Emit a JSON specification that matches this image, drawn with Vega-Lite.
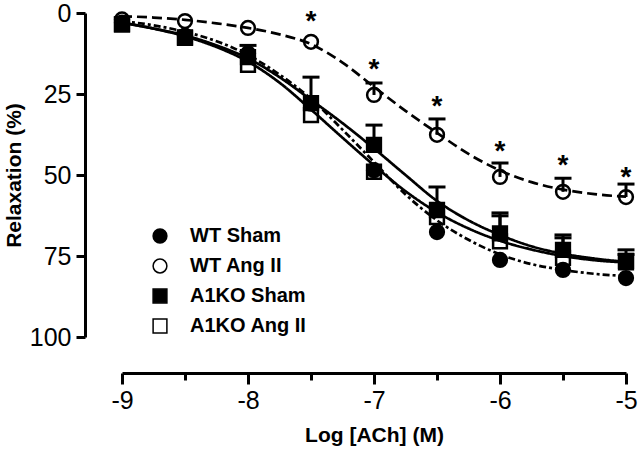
{
  "$schema": "https://vega.github.io/schema/vega-lite/v6.json",
  "width": 504,
  "height": 324,
  "autosize": {"type": "none"},
  "padding": {"left": 122, "top": 13, "right": 14, "bottom": 118},
  "background": "white",
  "config": {
    "view": {"stroke": null},
    "font": "Liberation Sans",
    "axis": {
      "domainColor": "black",
      "domainWidth": 3,
      "tickColor": "black",
      "tickWidth": 3,
      "labelColor": "black",
      "labelFont": "Liberation Sans",
      "labelFontSize": 25,
      "titleFont": "Liberation Sans",
      "titleFontSize": 21,
      "titleFontWeight": "bold",
      "titleColor": "black",
      "grid": false
    }
  },
  "datasets": {
    "curves": [
      {"x": -9, "c": "WT Ang II fit", "y": 1.0}, {"x": -8.75, "c": "WT Ang II fit", "y": 1.4}, {"x": -8.5, "c": "WT Ang II fit", "y": 2.1}, {"x": -8.25, "c": "WT Ang II fit", "y": 3.2}, {"x": -8, "c": "WT Ang II fit", "y": 4.6}, {"x": -7.75, "c": "WT Ang II fit", "y": 6.6}, {"x": -7.5, "c": "WT Ang II fit", "y": 9.6}, {"x": -7.25, "c": "WT Ang II fit", "y": 15.3}, {"x": -7, "c": "WT Ang II fit", "y": 22.8}, {"x": -6.75, "c": "WT Ang II fit", "y": 30.2}, {"x": -6.5, "c": "WT Ang II fit", "y": 37.0}, {"x": -6.25, "c": "WT Ang II fit", "y": 43.5}, {"x": -6, "c": "WT Ang II fit", "y": 48.6}, {"x": -5.75, "c": "WT Ang II fit", "y": 52.2}, {"x": -5.5, "c": "WT Ang II fit", "y": 54.5}, {"x": -5.25, "c": "WT Ang II fit", "y": 55.9}, {"x": -5, "c": "WT Ang II fit", "y": 56.7},
      {"x": -9, "c": "WT Sham fit", "y": 2.5}, {"x": -8.75, "c": "WT Sham fit", "y": 3.8}, {"x": -8.5, "c": "WT Sham fit", "y": 5.8}, {"x": -8.25, "c": "WT Sham fit", "y": 8.7}, {"x": -8, "c": "WT Sham fit", "y": 13.0}, {"x": -7.75, "c": "WT Sham fit", "y": 19.0}, {"x": -7.5, "c": "WT Sham fit", "y": 26.5}, {"x": -7.25, "c": "WT Sham fit", "y": 36.0}, {"x": -7, "c": "WT Sham fit", "y": 46.0}, {"x": -6.75, "c": "WT Sham fit", "y": 56.0}, {"x": -6.5, "c": "WT Sham fit", "y": 64.0}, {"x": -6.25, "c": "WT Sham fit", "y": 70.0}, {"x": -6, "c": "WT Sham fit", "y": 74.5}, {"x": -5.75, "c": "WT Sham fit", "y": 77.5}, {"x": -5.5, "c": "WT Sham fit", "y": 79.3}, {"x": -5.25, "c": "WT Sham fit", "y": 80.5}, {"x": -5, "c": "WT Sham fit", "y": 81.2},
      {"x": -9, "c": "A1KO Sham fit", "y": 3.0}, {"x": -8.75, "c": "A1KO Sham fit", "y": 4.8}, {"x": -8.5, "c": "A1KO Sham fit", "y": 6.9}, {"x": -8.25, "c": "A1KO Sham fit", "y": 10.0}, {"x": -8, "c": "A1KO Sham fit", "y": 14.0}, {"x": -7.75, "c": "A1KO Sham fit", "y": 19.8}, {"x": -7.5, "c": "A1KO Sham fit", "y": 26.8}, {"x": -7.25, "c": "A1KO Sham fit", "y": 34.0}, {"x": -7, "c": "A1KO Sham fit", "y": 41.8}, {"x": -6.75, "c": "A1KO Sham fit", "y": 50.0}, {"x": -6.5, "c": "A1KO Sham fit", "y": 58.0}, {"x": -6.25, "c": "A1KO Sham fit", "y": 64.0}, {"x": -6, "c": "A1KO Sham fit", "y": 68.5}, {"x": -5.75, "c": "A1KO Sham fit", "y": 72.0}, {"x": -5.5, "c": "A1KO Sham fit", "y": 74.3}, {"x": -5.25, "c": "A1KO Sham fit", "y": 75.8}, {"x": -5, "c": "A1KO Sham fit", "y": 76.8},
      {"x": -9, "c": "A1KO Ang II fit", "y": 3.0}, {"x": -8.75, "c": "A1KO Ang II fit", "y": 4.8}, {"x": -8.5, "c": "A1KO Ang II fit", "y": 7.2}, {"x": -8.25, "c": "A1KO Ang II fit", "y": 10.5}, {"x": -8, "c": "A1KO Ang II fit", "y": 15.0}, {"x": -7.75, "c": "A1KO Ang II fit", "y": 21.5}, {"x": -7.5, "c": "A1KO Ang II fit", "y": 29.8}, {"x": -7.25, "c": "A1KO Ang II fit", "y": 38.5}, {"x": -7, "c": "A1KO Ang II fit", "y": 47.0}, {"x": -6.75, "c": "A1KO Ang II fit", "y": 55.0}, {"x": -6.5, "c": "A1KO Ang II fit", "y": 61.5}, {"x": -6.25, "c": "A1KO Ang II fit", "y": 66.5}, {"x": -6, "c": "A1KO Ang II fit", "y": 70.3}, {"x": -5.75, "c": "A1KO Ang II fit", "y": 73.0}, {"x": -5.5, "c": "A1KO Ang II fit", "y": 75.0}, {"x": -5.25, "c": "A1KO Ang II fit", "y": 76.3}, {"x": -5, "c": "A1KO Ang II fit", "y": 77.0}
    ],
    "points": [
      {"x": -9, "g": "WT Sham", "m": 3.0}, {"x": -8.5, "g": "WT Sham", "m": 7.0}, {"x": -8, "g": "WT Sham", "m": 12.5}, {"x": -7.5, "g": "WT Sham", "m": 28.0}, {"x": -7, "g": "WT Sham", "m": 48.5}, {"x": -6.5, "g": "WT Sham", "m": 67.6}, {"x": -6, "g": "WT Sham", "m": 76.2}, {"x": -5.5, "g": "WT Sham", "m": 79.3}, {"x": -5, "g": "WT Sham", "m": 81.8},
      {"x": -9, "g": "WT Ang II", "m": 2.0}, {"x": -8.5, "g": "WT Ang II", "m": 2.5}, {"x": -8, "g": "WT Ang II", "m": 4.6}, {"x": -7.5, "g": "WT Ang II", "m": 8.9}, {"x": -7, "g": "WT Ang II", "m": 25.3}, {"x": -6.5, "g": "WT Ang II", "m": 37.6}, {"x": -6, "g": "WT Ang II", "m": 50.6}, {"x": -5.5, "g": "WT Ang II", "m": 55.2}, {"x": -5, "g": "WT Ang II", "m": 56.8},
      {"x": -9, "g": "A1KO Sham", "m": 3.5}, {"x": -8.5, "g": "A1KO Sham", "m": 7.7}, {"x": -8, "g": "A1KO Sham", "m": 13.6}, {"x": -7.5, "g": "A1KO Sham", "m": 27.8}, {"x": -7, "g": "A1KO Sham", "m": 40.7}, {"x": -6.5, "g": "A1KO Sham", "m": 60.8}, {"x": -6, "g": "A1KO Sham", "m": 68.0}, {"x": -5.5, "g": "A1KO Sham", "m": 73.1}, {"x": -5, "g": "A1KO Sham", "m": 76.5},
      {"x": -9, "g": "A1KO Ang II", "m": 3.5}, {"x": -8.5, "g": "A1KO Ang II", "m": 7.5}, {"x": -8, "g": "A1KO Ang II", "m": 16.0}, {"x": -7.5, "g": "A1KO Ang II", "m": 31.5}, {"x": -7, "g": "A1KO Ang II", "m": 49.0}, {"x": -6.5, "g": "A1KO Ang II", "m": 63.0}, {"x": -6, "g": "A1KO Ang II", "m": 70.5}, {"x": -5.5, "g": "A1KO Ang II", "m": 75.6}, {"x": -5, "g": "A1KO Ang II", "m": 77.0}
    ],
    "errors": [
      {"x": -7, "s": "WT Ang II", "m": 25.3, "e": 21.6}, {"x": -6.5, "s": "WT Ang II", "m": 37.6, "e": 32.7}, {"x": -6, "s": "WT Ang II", "m": 50.6, "e": 46.3}, {"x": -5.5, "s": "WT Ang II", "m": 55.2, "e": 51.0}, {"x": -5, "s": "WT Ang II", "m": 56.8, "e": 52.8},
      {"x": -8, "s": "A1KO Sham", "m": 13.6, "e": 10.0}, {"x": -7.5, "s": "A1KO Sham", "m": 27.8, "e": 19.8}, {"x": -7, "s": "A1KO Sham", "m": 40.7, "e": 34.6}, {"x": -6.5, "s": "A1KO Sham", "m": 60.8, "e": 53.7}, {"x": -6, "s": "A1KO Sham", "m": 68.0, "e": 61.7}, {"x": -5.5, "s": "A1KO Sham", "m": 73.1, "e": 68.5}, {"x": -5, "s": "A1KO Sham", "m": 76.5, "e": 73.1},
      {"x": -6, "s": "A1KO Ang II", "m": 70.5, "e": 62.6}, {"x": -5.5, "s": "A1KO Ang II", "m": 75.6, "e": 69.4}, {"x": -5, "s": "A1KO Ang II", "m": 77.0, "e": 74.5}
    ],
    "stars": [
      {"x": -7.5, "y": 0.6}, {"x": -7, "y": 15.4}, {"x": -6.5, "y": 26.9}, {"x": -6, "y": 40.7}, {"x": -5.5, "y": 45.0}, {"x": -5, "y": 48.8}
    ]
  },
  "layer": [
    {
      "data": {"name": "curves"},
      "mark": {"type": "line", "interpolate": "monotone", "strokeWidth": 2.7, "color": "black"},
      "encoding": {
        "x": {"field": "x", "type": "quantitative", "scale": {"domain": [-9, -5], "nice": false, "zero": false},
          "axis": {"title": "Log [ACh] (M)", "offset": 36, "values": [-9, -8.5, -8, -7.5, -7, -6.5, -6, -5.5, -5],
            "labelExpr": "datum.value % 1 === 0 ? '' + datum.value : ''",
            "tickSize": {"condition": {"test": "datum.value % 1 === 0", "value": 11}, "value": 7},
            "labelPadding": 4, "titlePadding": 11, "labelFlush": false, "labelOverlap": false}},
        "y": {"field": "y", "type": "quantitative", "scale": {"domain": [0, 100], "reverse": true, "nice": false, "zero": false},
          "axis": {"title": "Relaxation (%)", "offset": 37, "values": [0, 25, 50, 75, 100], "tickSize": 9, "labelPadding": 5, "titlePadding": 5, "labelExpr": "'' + datum.value"}},
        "strokeDash": {"field": "c", "type": "nominal", "legend": null,
          "scale": {"domain": ["WT Sham fit", "WT Ang II fit", "A1KO Sham fit", "A1KO Ang II fit"], "range": [[7, 3, 3, 3], [10, 5], [1, 0], [1, 0]]}}
      }
    },
    {
      "data": {"name": "points"},
      "mark": {"type": "point", "size": 190, "stroke": "black", "strokeWidth": 2.5, "opacity": 1},
      "encoding": {
        "x": {"field": "x", "type": "quantitative"},
        "y": {"field": "m", "type": "quantitative"},
        "shape": {"field": "g", "type": "nominal",
          "scale": {"domain": ["WT Sham", "WT Ang II", "A1KO Sham", "A1KO Ang II"], "range": ["circle", "circle", "square", "square"]},
          "legend": {"title": null, "orient": "none", "legendX": 28, "legendY": 213, "padding": 0, "symbolSize": 190, "labelFont": "Liberation Sans", "labelFontSize": 20, "labelFontWeight": "bold", "labelColor": "black", "labelOffset": 20, "rowPadding": 10,
            "encode": {"symbols": {"update": {"stroke": {"value": "black"}, "strokeWidth": {"value": 2.5}, "opacity": {"value": 1}}}}}},
        "fill": {"field": "g", "type": "nominal",
          "scale": {"domain": ["WT Sham", "WT Ang II", "A1KO Sham", "A1KO Ang II"], "range": ["black", "transparent", "black", "transparent"]},
          "legend": {"title": null, "orient": "none", "legendX": 28, "legendY": 213, "padding": 0, "symbolSize": 190, "labelFont": "Liberation Sans", "labelFontSize": 20, "labelFontWeight": "bold", "labelColor": "black", "labelOffset": 20, "rowPadding": 10,
            "encode": {"symbols": {"update": {"stroke": {"value": "black"}, "strokeWidth": {"value": 2.5}, "opacity": {"value": 1}}}}}}
      }
    },
    {
      "data": {"name": "errors"},
      "mark": {"type": "rule", "color": "black", "strokeWidth": 3},
      "encoding": {
        "x": {"field": "x", "type": "quantitative"},
        "y": {"field": "m", "type": "quantitative"},
        "y2": {"field": "e"}
      }
    },
    {
      "data": {"name": "errors"},
      "mark": {"type": "tick", "orient": "horizontal", "color": "black", "size": 17, "thickness": 3, "opacity": 1},
      "encoding": {
        "x": {"field": "x", "type": "quantitative"},
        "y": {"field": "e", "type": "quantitative"}
      }
    },
    {
      "data": {"name": "stars"},
      "mark": {"type": "text", "text": "*", "fontSize": 28, "fontWeight": "bold", "font": "Liberation Sans", "color": "black", "baseline": "alphabetic", "dy": 15},
      "encoding": {
        "x": {"field": "x", "type": "quantitative"},
        "y": {"field": "y", "type": "quantitative"}
      }
    }
  ]
}
